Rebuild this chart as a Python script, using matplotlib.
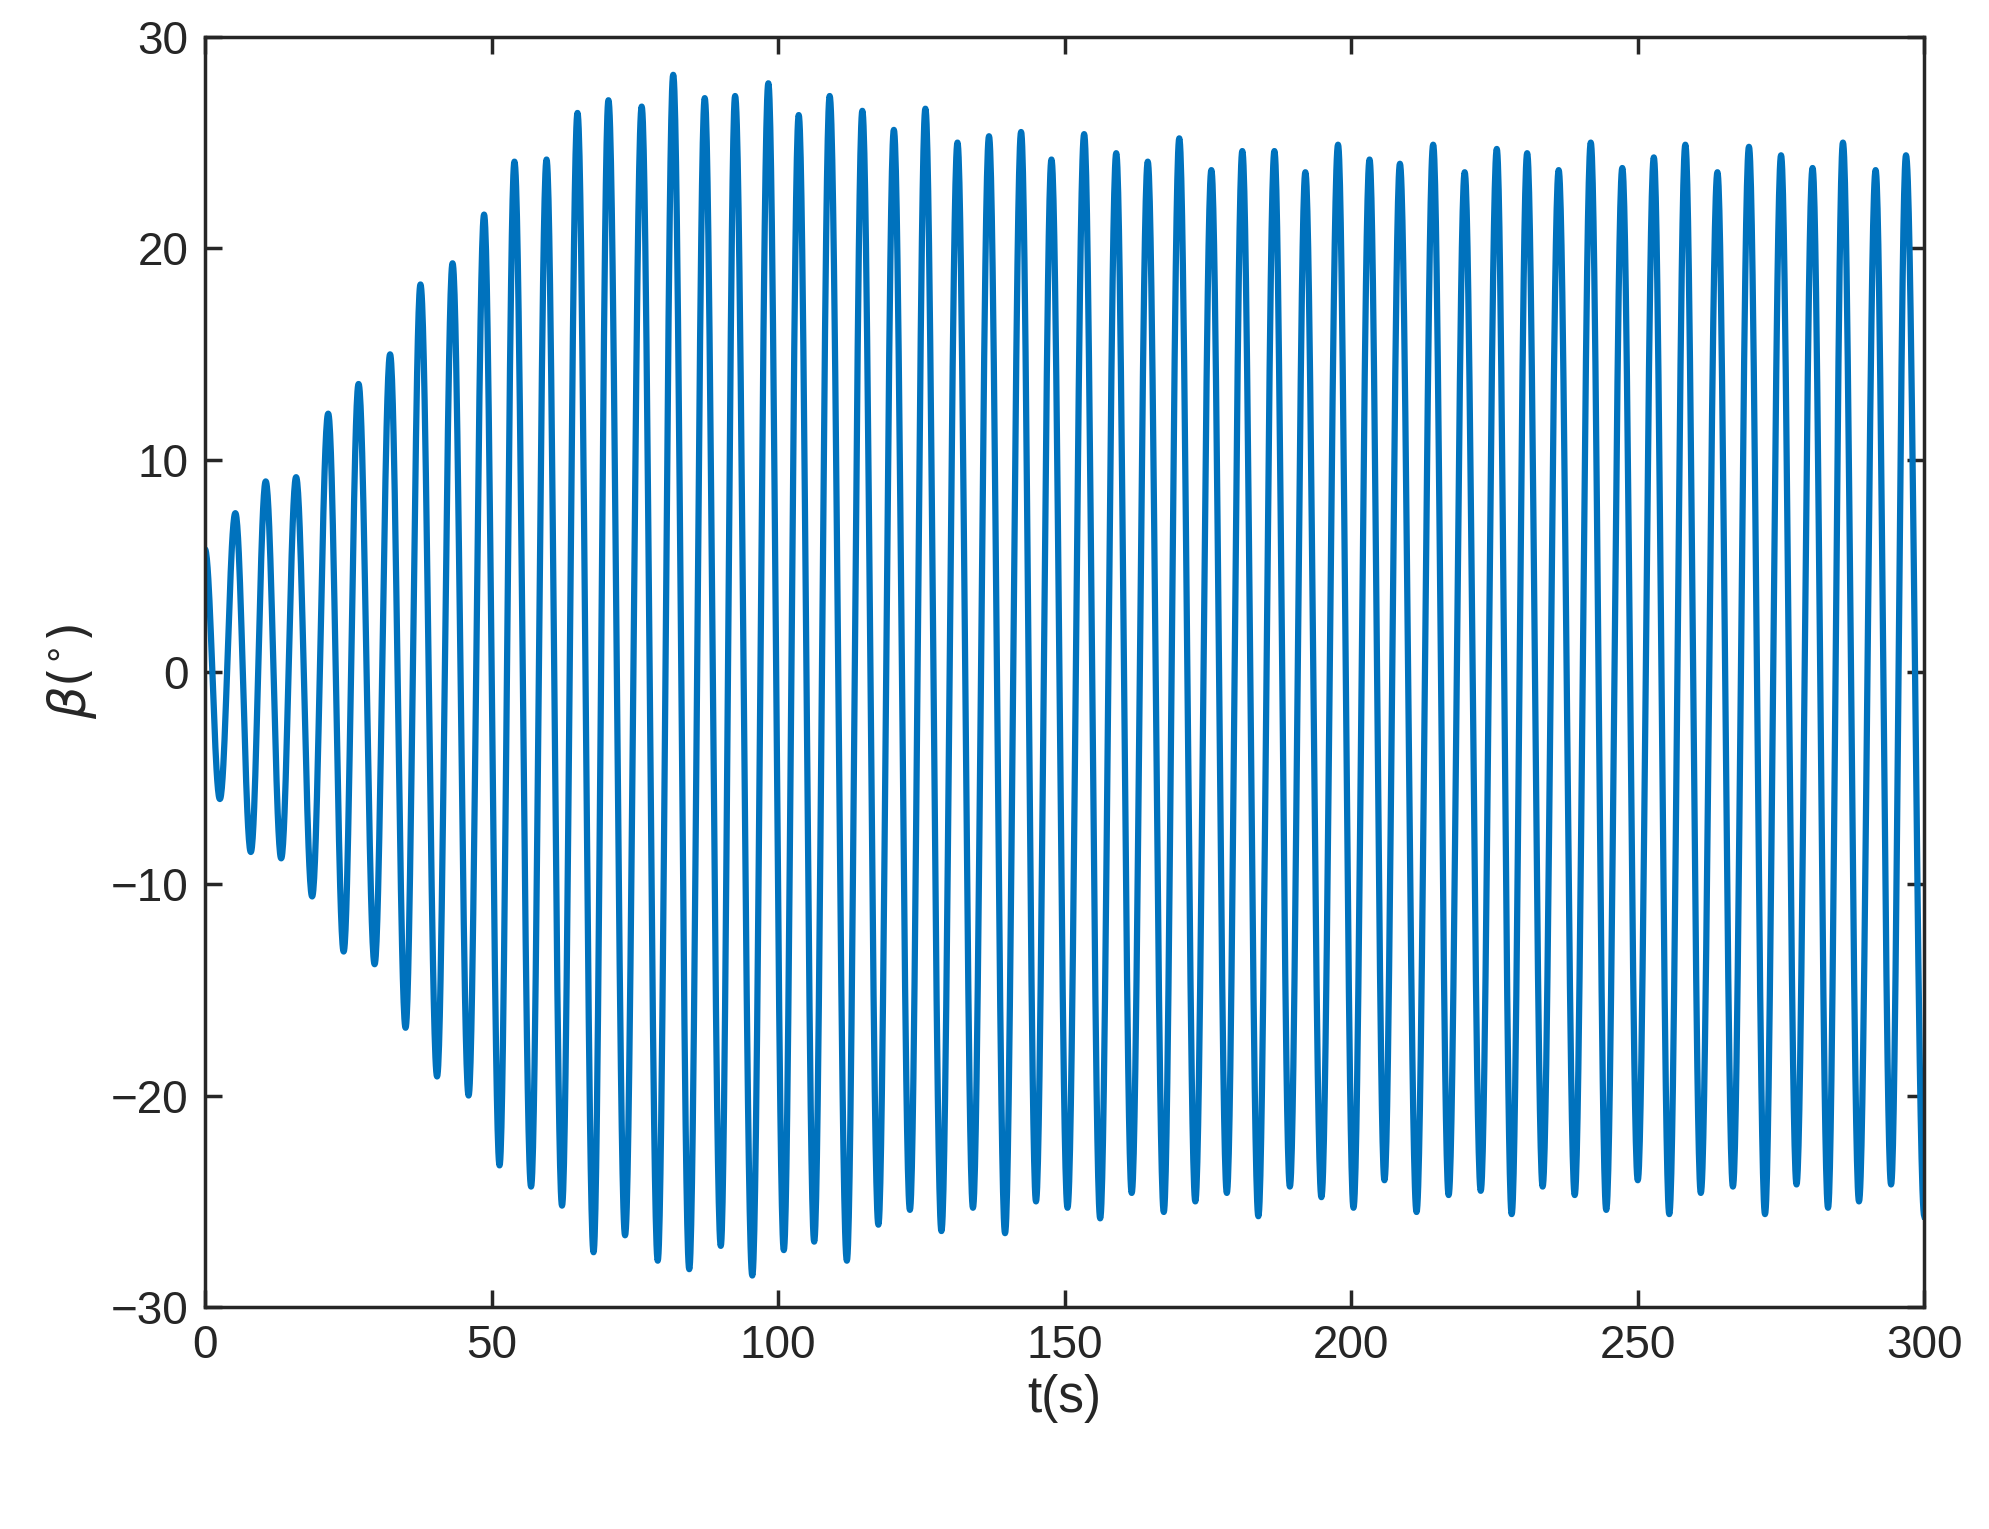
import numpy as np
import matplotlib
matplotlib.use("Agg")
import matplotlib.pyplot as plt

peak_t = [0, 5.3, 10.6, 15.9, 21.5, 26.8, 32.3, 37.6, 43.2, 48.7, 54, 59.6, 65, 70.4, 76.2, 81.7, 87.2, 92.5, 98.3,
          103.6, 109, 114.7, 120.2, 125.7, 131.3, 136.8, 142.4, 147.7, 153.4, 159, 164.5, 170, 175.6, 181, 186.6,
          192, 197.7, 203.2, 208.5, 214.3, 219.8, 225.4, 230.7, 236.2, 241.8, 247.3, 252.8, 258.3, 263.9, 269.4,
          275, 280.5, 285.8, 291.5, 296.8]
peak_v = [5.8, 7.5, 9.0, 9.2, 12.2, 13.6, 15.0, 18.3, 19.3, 21.6, 24.1, 24.2, 26.4, 27.0, 26.7, 28.2, 27.1, 27.2, 27.8,
          26.3, 27.2, 26.5, 25.6, 26.6, 25.0, 25.3, 25.5, 24.2, 25.4, 24.5, 24.1, 25.2, 23.7, 24.6, 24.6,
          23.6, 24.9, 24.2, 24.0, 24.9, 23.6, 24.7, 24.5, 23.7, 25.0, 23.8, 24.3, 24.9, 23.6, 24.8,
          24.4, 23.8, 25.0, 23.7, 24.4]
trough_t = [2.6, 8, 13.3, 18.7, 24.2, 29.6, 35, 40.5, 46, 51.4, 56.9, 62.3, 67.8, 73.3, 79, 84.5, 90, 95.5, 101,
            106.3, 112, 117.5, 123, 128.5, 134, 139.6, 145, 150.5, 156.2, 161.7, 167.3, 172.8, 178.3, 183.8, 189.3,
            194.8, 200.4, 205.8, 211.4, 217, 222.6, 228, 233.4, 239, 244.5, 250, 255.5, 261, 266.6, 272.2, 277.7,
            283.2, 288.6, 294.2, 300]
trough_v = [-6.0, -8.5, -8.8, -10.6, -13.2, -13.8, -16.8, -19.1, -20.0, -23.3, -24.3, -25.2, -27.4, -26.6, -27.8,
            -28.2, -27.1, -28.5, -27.3, -26.9, -27.8, -26.1, -25.4, -26.4, -25.3, -26.5, -25.0, -25.3, -25.8, -24.6,
            -25.5, -25.0, -24.6, -25.7, -24.3, -24.8, -25.3, -24.0, -25.5, -24.7, -24.5, -25.6, -24.3, -24.7, -25.4,
            -24.0, -25.6, -24.6, -24.3, -25.6, -24.2, -25.3, -25.0, -24.2, -25.7]

ext_t, ext_v = [], []
for i in range(len(peak_t)):
    ext_t.append(peak_t[i]); ext_v.append(peak_v[i])
    ext_t.append(trough_t[i]); ext_v.append(trough_v[i])

ts, vs = [], []
for i in range(len(ext_t) - 1):
    s = np.linspace(0, 1, 40, endpoint=False)
    w = (1 - np.cos(np.pi * s)) / 2
    ts.append(ext_t[i] + (ext_t[i+1] - ext_t[i]) * s)
    vs.append(ext_v[i] + (ext_v[i+1] - ext_v[i]) * w)
ts.append([ext_t[-1]]); vs.append([ext_v[-1]])
t = np.concatenate(ts); v = np.concatenate(vs)

plt.rcParams['font.family'] = ['Liberation Sans', 'DejaVu Sans']
fig = plt.figure(figsize=(19.9, 15.29), dpi=100)
ax = fig.add_axes([0.103, 0.145, 0.864, 0.831])
ax.plot(t, v, color='#0072BD', lw=4.5)
ax.set_xlim(0, 300); ax.set_ylim(-30, 30)
ax.set_xticks(range(0, 301, 50)); ax.set_yticks(range(-30, 31, 10))
ax.tick_params(labelsize=33, direction='in', length=12, width=2.5, top=True, right=True, colors='#262626', pad=12)
for sp in ax.spines.values():
    sp.set_linewidth(2.5); sp.set_color('#262626')
ax.set_xlabel('t(s)', fontsize=37, color='#262626')
ax.set_ylabel(r'$\beta(^{\circ})$', fontsize=37, color='#262626', labelpad=8)
fig.savefig('out.png', dpi=100)
